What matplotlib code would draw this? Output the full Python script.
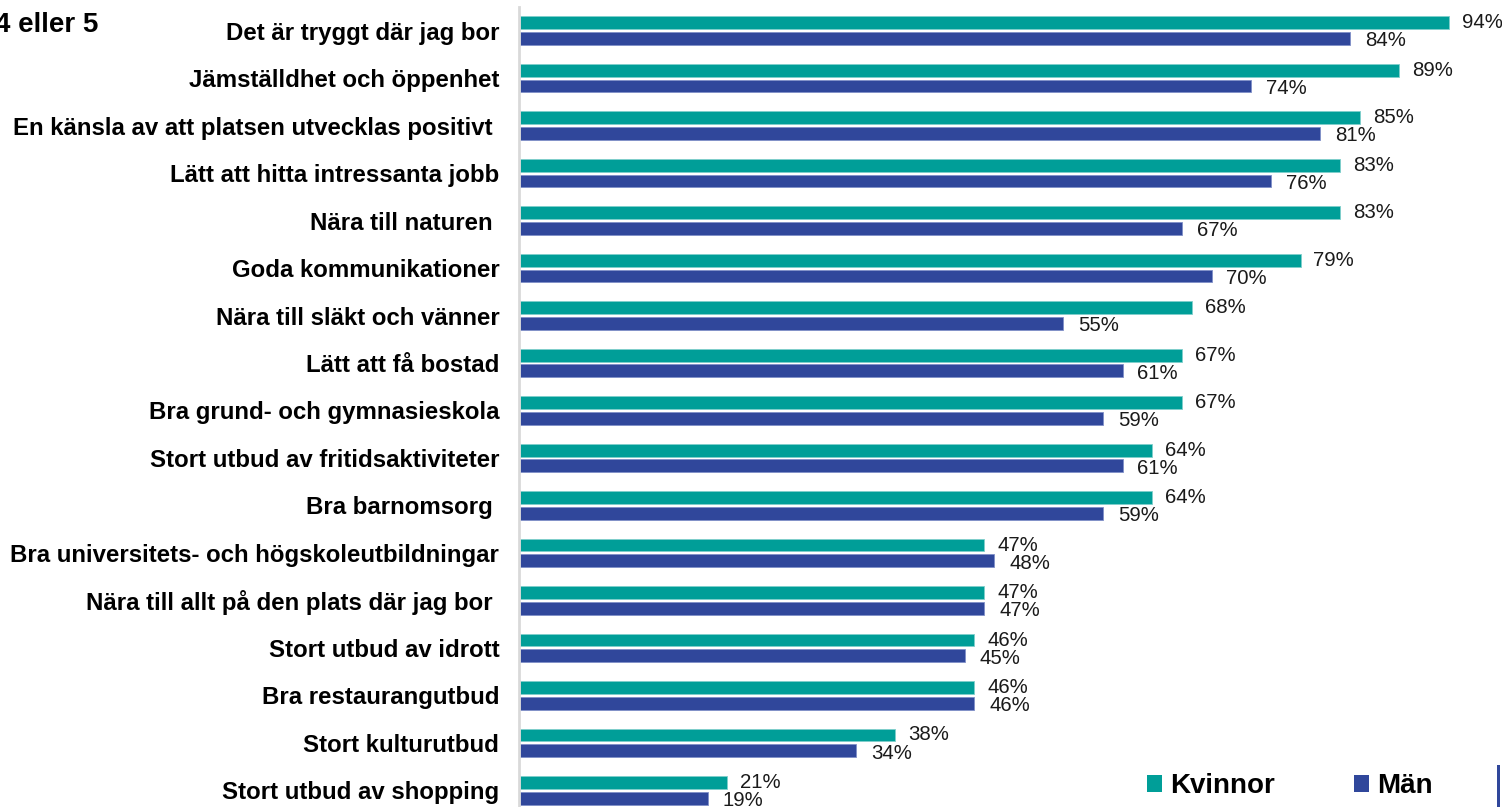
import matplotlib
matplotlib.use("Agg")
import matplotlib.pyplot as plt
from matplotlib.patches import Patch, Rectangle
import numpy as np

plt.rcParams['font.family'] = ['Liberation Sans', 'DejaVu Sans']

# data
categories = [
    "Det är tryggt där jag bor",
    "Jämställdhet och öppenhet",
    "En känsla av att platsen utvecklas positivt ",
    "Lätt att hitta intressanta jobb",
    "Nära till naturen ",
    "Goda kommunikationer",
    "Nära till släkt och vänner",
    "Lätt att få bostad",
    "Bra grund- och gymnasieskola",
    "Stort utbud av fritidsaktiviteter",
    "Bra barnomsorg ",
    "Bra universitets- och högskoleutbildningar",
    "Nära till allt på den plats där jag bor ",
    "Stort utbud av idrott",
    "Bra restaurangutbud",
    "Stort kulturutbud",
    "Stort utbud av shopping",
]
kvinnor = [94, 89, 85, 83, 83, 79, 68, 67, 67, 64, 64, 47, 47, 46, 46, 38, 21]
man = [84, 74, 81, 76, 67, 70, 55, 61, 59, 61, 59, 48, 47, 45, 46, 34, 19]

teal = "#009E98"
blue = "#30479B"

W, H = 1502, 807
fig = plt.figure(figsize=(W / 100, H / 100), dpi=100)
# axes: x=0 at px 520, 100% at px 1508; rows from y=7 to 814
ax = fig.add_axes([520 / W, (H - 814) / H, 988 / W, 807 / H])

y = np.arange(len(categories))
bh = 0.27
off = 0.165
ax.barh(y - off, kvinnor, height=bh, color=teal, edgecolor="#7fcfcb", linewidth=0.6)
ax.barh(y + off, man, height=bh, color=blue, edgecolor="#8090c8", linewidth=0.6)

for i in range(len(categories)):
    ax.text(kvinnor[i] + 1.3, y[i] - off, f"{kvinnor[i]}%", va="center", ha="left",
            fontsize=14.7, color="#1a1a1a")
    ax.text(man[i] + 1.5, y[i] + off + 0.05, f"{man[i]}%", va="center", ha="left",
            fontsize=14.7, color="#1a1a1a")

ax.set_xlim(0, 100)
ax.set_ylim(len(categories) - 0.5, -0.5)
for s in ["top", "right", "bottom"]:
    ax.spines[s].set_visible(False)
ax.spines["left"].set_color("#d9d9d9")
ax.spines["left"].set_linewidth(2)
ax.spines["left"].set_position(("data", -0.12))
ax.set_xticks([])
ax.set_yticks(y)
ax.set_yticklabels(categories, fontsize=17.3, fontweight="bold")
ax.tick_params(axis="y", length=0, pad=14)

fig.text(-5 / W, 1 - 25 / H, "4 eller 5", fontsize=20, fontweight="bold",
         ha="left", va="center")

handles = [Patch(facecolor=teal, label="Kvinnor"), Patch(facecolor=blue, label="Män")]
fig.legend(handles=handles, loc="center left", bbox_to_anchor=(1122 / W, 1 - 786 / H),
           ncol=2, frameon=False, prop={"size": 20, "weight": "bold"},
           handlelength=0.55, handleheight=0.55, handletextpad=0.28, columnspacing=2.85)

fig.add_artist(Rectangle((1497 / W, 0), 3 / W, 42 / H, transform=fig.transFigure,
                         facecolor=blue, edgecolor="none"))

fig.savefig("out.png", dpi=100)
